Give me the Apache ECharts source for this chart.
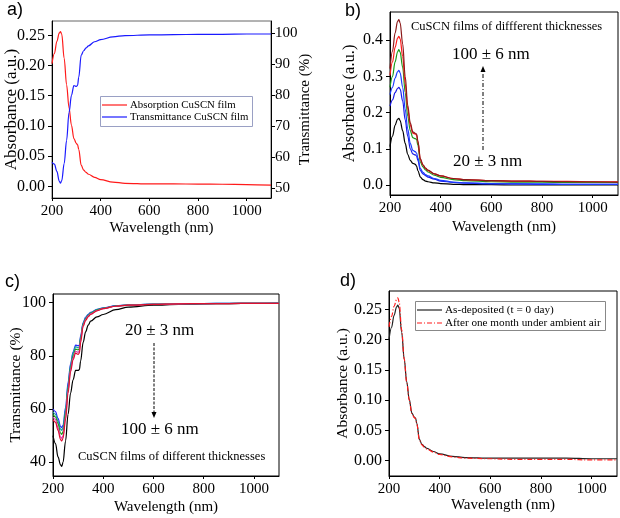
<!DOCTYPE html>
<html><head><meta charset="utf-8">
<script src="https://cdn.jsdelivr.net/npm/echarts@6/dist/echarts.min.js"></script>
<style>html,body{margin:0;padding:0;background:#fff}#c{width:620px;height:518px}</style>
</head><body><div id="c"></div>
<script>
// ---- DATA ----
var wavelength = [200,210,220,230,235,240,250,260,270,280,290,300,305,310,320,330,340,350,375,400,450,500,600,700,800,900,1000,1100];
// panel a
var absA  = [0.203,0.220,0.240,0.254,0.256,0.252,0.212,0.168,0.130,0.101,0.079,0.071,0.069,0.061,0.035,0.027,0.023,0.020,0.015,0.011,0.007,0.005,0.004,0.004,0.0038,0.0035,0.003,0.002];
var transA= [58.4,57.8,55.5,52.3,51.7,52.5,58.0,65.5,74.5,80.0,83.2,82.9,83.2,85.9,93.0,94.4,95.3,96.0,97.3,98.0,98.9,99.3,99.5,99.6,99.7,99.7,99.8,99.8];
// panel b (absorbance vs thickness)
var bDarkRed = [0.322,0.370,0.420,0.452,0.457,0.448,0.390,0.300,0.220,0.172,0.147,0.143,0.141,0.122,0.072,0.056,0.047,0.041,0.031,0.025,0.018,0.015,0.012,0.011,0.010,0.009,0.009,0.008];
var bRed     = [0.303,0.340,0.380,0.406,0.411,0.404,0.355,0.280,0.210,0.166,0.143,0.141,0.138,0.119,0.070,0.055,0.046,0.040,0.031,0.025,0.018,0.015,0.012,0.011,0.010,0.010,0.009,0.009];
var bGreen   = [0.270,0.300,0.340,0.368,0.374,0.367,0.325,0.255,0.190,0.150,0.131,0.128,0.126,0.110,0.063,0.050,0.042,0.036,0.027,0.021,0.015,0.012,0.009,0.008,0.008,0.007,0.007,0.007];
var bBlue1   = [0.250,0.270,0.295,0.313,0.317,0.310,0.270,0.210,0.155,0.115,0.096,0.092,0.088,0.075,0.045,0.035,0.029,0.025,0.018,0.013,0.008,0.006,0.004,0.003,0.003,0.002,0.002,0.002];
var bBlue2   = [0.218,0.235,0.255,0.267,0.270,0.265,0.232,0.180,0.135,0.100,0.086,0.083,0.080,0.068,0.040,0.031,0.026,0.022,0.016,0.011,0.007,0.005,0.003,0.003,0.002,0.002,0.002,0.002];
var bBlack   = [0.106,0.135,0.165,0.182,0.184,0.178,0.150,0.115,0.085,0.068,0.060,0.057,0.052,0.040,0.022,0.015,0.011,0.009,0.006,0.004,0.002,0.001,0.001,0.000,0.000,0.000,0.000,0.000];
// panel c (transmittance vs thickness)
var cBlack   = [50.0,47.0,42.0,39.0,38.5,40.0,48.0,58.0,66.0,71.0,74.5,74.5,74.8,78.0,85.0,89.0,91.5,93.0,94.6,95.5,97.3,98.3,99.0,99.3,99.5,99.6,99.7,99.7];
var cBlue    = [60.0,59.0,56.5,53.5,53.0,54.0,60.5,70.0,77.0,81.5,84.0,83.8,84.0,87.5,92.5,94.5,95.6,96.3,97.4,98.0,98.8,99.1,99.4,99.5,99.6,99.7,99.7,99.8];
var cCyan    = [59.0,58.0,55.5,52.5,52.0,53.0,59.5,69.0,76.5,81.0,83.4,83.0,83.4,87.0,92.2,94.2,95.4,96.1,97.3,97.9,98.7,99.1,99.4,99.5,99.6,99.7,99.7,99.8];
var cGreen   = [58.0,57.0,54.5,51.0,50.5,51.5,58.5,68.0,75.5,80.0,82.5,82.2,82.6,86.5,91.8,93.9,95.1,95.9,97.2,97.8,98.7,99.0,99.3,99.5,99.6,99.6,99.7,99.7];
var cMagenta = [57.0,56.0,53.0,49.5,49.0,50.0,57.0,67.0,74.8,79.2,81.7,81.3,81.8,85.8,91.4,93.6,94.9,95.7,97.0,97.7,98.6,99.0,99.3,99.5,99.6,99.6,99.7,99.7];
var cRed     = [56.0,55.0,52.0,48.5,48.0,49.0,56.0,66.0,74.0,78.5,81.0,80.5,81.0,85.0,91.0,93.3,94.6,95.5,96.9,97.7,98.6,99.0,99.3,99.5,99.6,99.6,99.7,99.7];
// panel d (stability)
var dAsDep   = [0.200,0.220,0.240,0.254,0.257,0.252,0.212,0.168,0.130,0.101,0.079,0.072,0.070,0.061,0.035,0.027,0.023,0.020,0.015,0.011,0.007,0.005,0.004,0.004,0.004,0.004,0.003,0.003];
var dMonth   = [0.221,0.238,0.255,0.266,0.269,0.262,0.216,0.168,0.129,0.100,0.078,0.071,0.069,0.060,0.034,0.026,0.022,0.019,0.014,0.010,0.006,0.004,0.003,0.002,0.002,0.002,0.001,0.001];
// tick labels
var xTicks = [200,400,600,800,1000];
var aAbsTicks = [0,0.05,0.10,0.15,0.20,0.25];
var aTransTicks = [50,60,70,80,90,100];
var bTicks = [0,0.1,0.2,0.3,0.4];
var cTicks = [40,60,80,100];
var dTicks = [0,0.05,0.10,0.15,0.20,0.25];

// ---- CHART ----
var SERIF = "Liberation Serif";
var SERIFCSS = "'Liberation Serif','Times New Roman',serif";
function pts(v){ return wavelength.map(function(x,i){return [x, v[i]];}); }
function mkX(g, gap){
  return {type:'value', gridIndex:g, min:200, max:1100,
    name:'Wavelength (nm)', nameLocation:'middle', nameGap:gap, nameMoveOverlap:false,
    nameTextStyle:{fontFamily:SERIF, fontSize:15, color:'#000'},
    axisLine:{show:true, onZero:false, lineStyle:{color:'#000', width:1}},
    axisTick:{show:true, inside:false, length:3, customValues:xTicks, lineStyle:{color:'#000'}},
    axisLabel:{customValues:xTicks, fontFamily:SERIF, fontSize:15, color:'#000', margin:6,
      formatter:function(v){return String(v);}},
    splitLine:{show:false}};
}
function mkY(g, min, max, ticks, name, gap, pos, fmt, nsize, lsize, lmargin){
  return {type:'value', gridIndex:g, min:min, max:max, position:pos||'left',
    name:name, nameLocation:'middle', nameGap:gap, nameMoveOverlap:false,
    nameTextStyle:{fontFamily:SERIF, fontSize:nsize||15, color:'#000'},
    axisLine:{show:true, onZero:false, lineStyle:{color:'#000', width:1}},
    axisTick:{show:true, inside:false, length:4, customValues:ticks, lineStyle:{color:'#000'}},
    axisLabel:{customValues:ticks, fontFamily:SERIF, fontSize:lsize||16, color:'#000', margin:lmargin||7,
      formatter:function(v){return fmt!=null? v.toFixed(fmt): String(v);}},
    splitLine:{show:false}};
}
function line(name, xi, yi, v, color, dash){
  return {type:'line', name:name, xAxisIndex:xi, yAxisIndex:yi, data:pts(v), symbol:'none',
    smooth:0.35, smoothMonotone:'x', lineStyle:{color:color, width:1.2, type:dash||'solid'}, itemStyle:{color:color}};
}
function txt(x, y, s, size, z){
  return {type:'text', x:x, y:y, z:z||10, style:{text:s, font:size+"px "+SERIFCSS, fill:'#000', verticalAlign:'middle', align:'left'}};
}
function grid(l,t,w,h,bc){
  return {left:l, top:t, width:w, height:h, show:true, borderColor:bc, borderWidth:1, containLabel:false, outerBoundsMode:'none'};
}
var chart = echarts.init(document.getElementById('c'), null, {renderer:'canvas'});
var option = {
  animation:false,
  backgroundColor:'#fff',
  textStyle:{fontFamily:SERIF},
  grid:[
    grid(52,21,219,177,'#666'),
    grid(390,12,228,183,'#000'),
    grid(53,294,226,182,'#000'),
    grid(389,291,228,185,'#000')
  ],
  xAxis:[mkX(0,23), mkX(1,25), mkX(2,24), mkX(3,22)],
  yAxis:[
    mkY(0,-0.0193,0.2737,aAbsTicks,'Absorbance (a.u.)',32,'left',2,17),
    mkY(0,46.9,104,aTransTicks,'Transmittance (%)',27,'right',null,15,15,4),
    mkY(1,-0.0276,0.478,bTicks,'Absorbance (a.u.)',32,'left',1,16.5),
    mkY(2,34.85,103.2,cTicks,'Transmittance (%)',29,'left',null,15.5),
    mkY(3,-0.0255,0.2803,dTicks,'Absorbance (a.u.)',38,'left',2,15.5)
  ],
  series:[
    line('Absorption CuSCN film',0,0,absA,'#ff1a1a'),
    line('Transmittance CuSCN film',0,1,transA,'#1a1aff'),
    line('b0',1,2,bBlack,'#000000'),
    line('b1',1,2,bBlue2,'#1a1ae6'),
    line('b2',1,2,bBlue1,'#1a3cff'),
    line('b3',1,2,bGreen,'#1a9a1a'),
    line('b4',1,2,bRed,'#ff1a1a'),
    line('b5',1,2,bDarkRed,'#8b1a1a'),
    line('c0',2,3,cBlack,'#000000'),
    line('c1',2,3,cBlue,'#2a2aff'),
    line('c2',2,3,cCyan,'#1aa0a0'),
    line('c3',2,3,cGreen,'#1a9a1a'),
    line('c4',2,3,cMagenta,'#e040b0'),
    line('c5',2,3,cRed,'#dd1030'),
    line('As-deposited (t = 0 day)',3,4,dAsDep,'#222222'),
    line('After one month under ambient air',3,4,dMonth,'#ff1a1a',[5,2,1,2])
  ],
  graphic:[
    {type:'text', left:7, top:1, style:{text:'a)', font:"18px 'Liberation Sans',Arial,sans-serif", fill:'#000'}},
    {type:'text', left:345, top:2, style:{text:'b)', font:"18px 'Liberation Sans',Arial,sans-serif", fill:'#000'}},
    {type:'text', left:5, top:273, style:{text:'c)', font:"18px 'Liberation Sans',Arial,sans-serif", fill:'#000'}},
    {type:'text', left:340, top:272, style:{text:'d)', font:"18px 'Liberation Sans',Arial,sans-serif", fill:'#000'}},
    // legend a
    {type:'rect', shape:{x:100.5, y:96.5, width:152, height:30}, style:{fill:'#fff', stroke:'#9aa0c4', lineWidth:1}, z:50},
    {type:'line', shape:{x1:102, y1:105, x2:127, y2:105}, style:{stroke:'#ff1a1a', lineWidth:1.2}, z:51},
    {type:'line', shape:{x1:102, y1:117, x2:127, y2:117}, style:{stroke:'#1a1aff', lineWidth:1.2}, z:51},
    txt(130,105,'Absorption CuSCN film',10.8,51),
    txt(130,117,'Transmittance CuSCN film',10.8,51),
    // legend d
    {type:'rect', shape:{x:415.5, y:301.5, width:190, height:29}, style:{fill:'#fff', stroke:'#888', lineWidth:1}, z:50},
    {type:'line', shape:{x1:417, y1:310, x2:442, y2:310}, style:{stroke:'#222', lineWidth:1.2}, z:51},
    {type:'line', shape:{x1:417, y1:323, x2:442, y2:323}, style:{stroke:'#ff1a1a', lineWidth:1.2, lineDash:[5,2,1,2]}, z:51},
    txt(445,310,'As-deposited (t = 0 day)',11.2,51),
    txt(445,323,'After one month under ambient air',11.2,51),
    // panel b annotations
    txt(411,27,'CuSCN films of diffferent thicknesses',12.5),
    txt(452,55,'100 \u00b1 6 nm',17),
    txt(453,162,'20 \u00b1 3 nm',17),
    {type:'polyline', shape:{points:[[483,150],[483,71]]}, style:{stroke:'#000', lineWidth:1, lineDash:[4,2,1,2]}},
    {type:'polygon', shape:{points:[[480.5,72],[485.5,72],[483,66]]}, style:{fill:'#000'}},
    // panel c annotations
    txt(125,331,'20 \u00b1 3 nm',17),
    {type:'polyline', shape:{points:[[154,343],[154,412]]}, style:{stroke:'#000', lineWidth:1, lineDash:[3,1.5]}},
    {type:'polygon', shape:{points:[[151.5,412],[156.5,412],[154,418]]}, style:{fill:'#000'}},
    txt(121,430,'100 \u00b1 6 nm',17),
    txt(78,457,'CuSCN films of different thicknesses',12.5)
  ]
};
chart.setOption(option);
</script>
</body></html>
